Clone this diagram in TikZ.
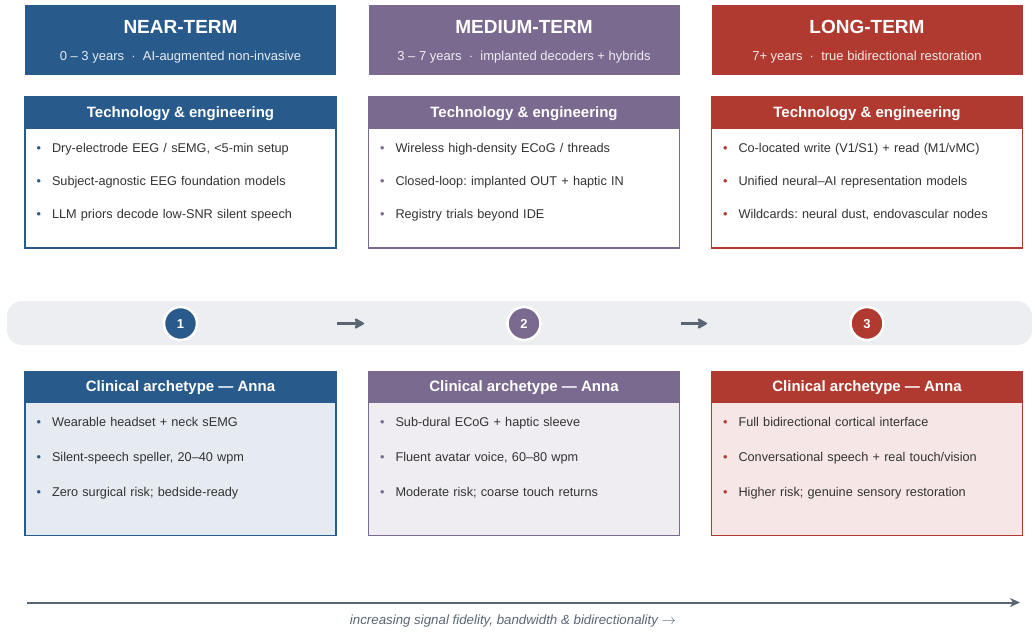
\documentclass[tikz,border=0pt]{standalone}
\usepackage{fontspec}
\setmainfont{Liberation Sans}
\usepackage{tikz}
\usetikzlibrary{positioning,arrows.meta}

\definecolor{nearc}{HTML}{285A8C}
\definecolor{midc}{HTML}{7A6A8F}
\definecolor{farc}{HTML}{B03A30}
\definecolor{bandc}{HTML}{ECEEF2}
\definecolor{inkc}{HTML}{333333}
\definecolor{axisc}{HTML}{5A6573}

\newcommand{\phasetitle}[1]{{\fontsize{19}{19}\selectfont\bfseries\color{white}#1}}
\newcommand{\bitem}[2]{\makebox[15.5pt][l]{\textcolor{#1}{\textbullet}}#2}
\frenchspacing

\begin{document}
\begin{tikzpicture}
    [x=1pt,y=-1pt,
     phase/.style={rectangle,fill=#1,minimum width=311pt,minimum height=70pt,inner sep=0pt,outer sep=0pt,
       text=white!88!#1,align=center,text height=43pt,text depth=2pt,font=\fontsize{13}{14}\selectfont},
     headbar/.style={rectangle,fill=#1,draw=#1,line width=1.4pt,minimum width=311pt,minimum height=31pt,
       inner sep=0pt,outer sep=0pt,text=white,text height=10pt,text depth=1pt,
       font=\fontsize{15}{18}\selectfont\bfseries},
     techlist/.style={rectangle,draw=#1,fill=white,line width=1.4pt,text width=288pt,inner xsep=11.5pt,
       inner ysep=0pt,outer sep=0pt,text height=24pt,text depth=96pt,align=left,text=inkc,
       font=\fontsize{12.7}{33}\selectfont},
     caselist/.style={techlist=#1,fill=#1!12,text depth=109pt,font=\fontsize{12.7}{35}\selectfont},
     stage/.style={circle,fill=#1,draw=white,line width=2.5pt,minimum size=33pt,inner sep=0pt,outer sep=0pt,
       text=white,text height=9pt,text depth=0pt,font=\fontsize{13}{13}\selectfont\bfseries},
     flow/.style={draw=axisc,line width=3.5pt,-{Stealth[length=12pt,width=13pt,inset=3.5pt,round]},
       shorten <=140pt,shorten >=143.5pt},
     axisline/.style={draw=axisc,line width=2pt,-{Stealth[length=10pt,width=9pt,inset=3pt]}},
     caption/.style={text=axisc,font=\fontsize{13.3}{14}\selectfont\itshape}]
    \useasboundingbox (0,0) rectangle (1035,633);
    \fill[bandc,rounded corners=15pt] (7,301) rectangle (1032,345);

    % near-term column
    \node[phase=nearc] (near) at (180.5,40)
      {\phasetitle{NEAR-TERM}\\[13pt]0 – 3 years~~·~~AI-augmented non-invasive};
    \node[headbar=nearc] (neartech) [below=22pt of near] {Technology \& engineering};
    \node[techlist=nearc] (nearlist) [below=0pt of neartech]
      {\bitem{nearc}{Dry-electrode EEG / sEMG, <5-min setup}\\
       \bitem{nearc}{Subject-agnostic EEG foundation models}\\
       \bitem{nearc}{LLM priors decode low-SNR silent speech}};
    \node[stage=nearc] (one) [below=59pt of nearlist] {1};
    \node[headbar=nearc] (nearclin) [below=31.5pt of one] {Clinical archetype — Anna};
    \node[caselist=nearc] (nearcase) [below=0pt of nearclin]
      {\bitem{nearc}{Wearable headset + neck sEMG}\\
       \bitem{nearc}{Silent-speech speller, 20–40 wpm}\\
       \bitem{nearc}{Zero surgical risk; bedside-ready}};

    % medium-term column
    \node[phase=midc] (medium) at (524,40)
      {\phasetitle{MEDIUM-TERM}\\[13pt]3 – 7 years~~·~~implanted decoders + hybrids};
    \node[headbar=midc] (midtech) [below=22pt of medium] {Technology \& engineering};
    \node[techlist=midc] (midlist) [below=0pt of midtech]
      {\bitem{midc}{Wireless high-density ECoG / threads}\\
       \bitem{midc}{Closed-loop: implanted OUT + haptic IN}\\
       \bitem{midc}{Registry trials beyond IDE}};
    \node[stage=midc] (two) [below=59pt of midlist] {2};
    \node[headbar=midc] (midclin) [below=31.5pt of two] {Clinical archetype — Anna};
    \node[caselist=midc] (midcase) [below=0pt of midclin]
      {\bitem{midc}{Sub-dural ECoG + haptic sleeve}\\
       \bitem{midc}{Fluent avatar voice, 60–80 wpm}\\
       \bitem{midc}{Moderate risk; coarse touch returns}};

    % long-term column
    \node[phase=farc] (long) at (867,40)
      {\phasetitle{LONG-TERM}\\[13pt]7+ years~~·~~true bidirectional restoration};
    \node[headbar=farc] (fartech) [below=22pt of long] {Technology \& engineering};
    \node[techlist=farc] (farlist) [below=0pt of fartech]
      {\bitem{farc}{Co-located write (V1/S1) + read (M1/vMC)}\\
       \bitem{farc}{Unified neural–AI representation models}\\
       \bitem{farc}{Wildcards: neural dust, endovascular nodes}};
    \node[stage=farc] (three) [below=59pt of farlist] {3};
    \node[headbar=farc] (farclin) [below=31.5pt of three] {Clinical archetype — Anna};
    \node[caselist=farc] (farcase) [below=0pt of farclin]
      {\bitem{farc}{Full bidirectional cortical interface}\\
       \bitem{farc}{Conversational speech + real touch/vision}\\
       \bitem{farc}{Higher risk; genuine sensory restoration}};

    \draw[flow] (one) -- (two);
    \draw[flow] (two) -- (three);

    % fidelity axis
    \coordinate (axisstart) at (27,602.5);
    \coordinate (axisend) at (1020,602.5);
    \draw[axisline] (axisstart) -- (axisend);
    \node[caption] (axislabel) at (513,621)
      {increasing signal fidelity, bandwidth \& bidirectionality \ensuremath{\rightarrow}};
\end{tikzpicture}
\end{document}
